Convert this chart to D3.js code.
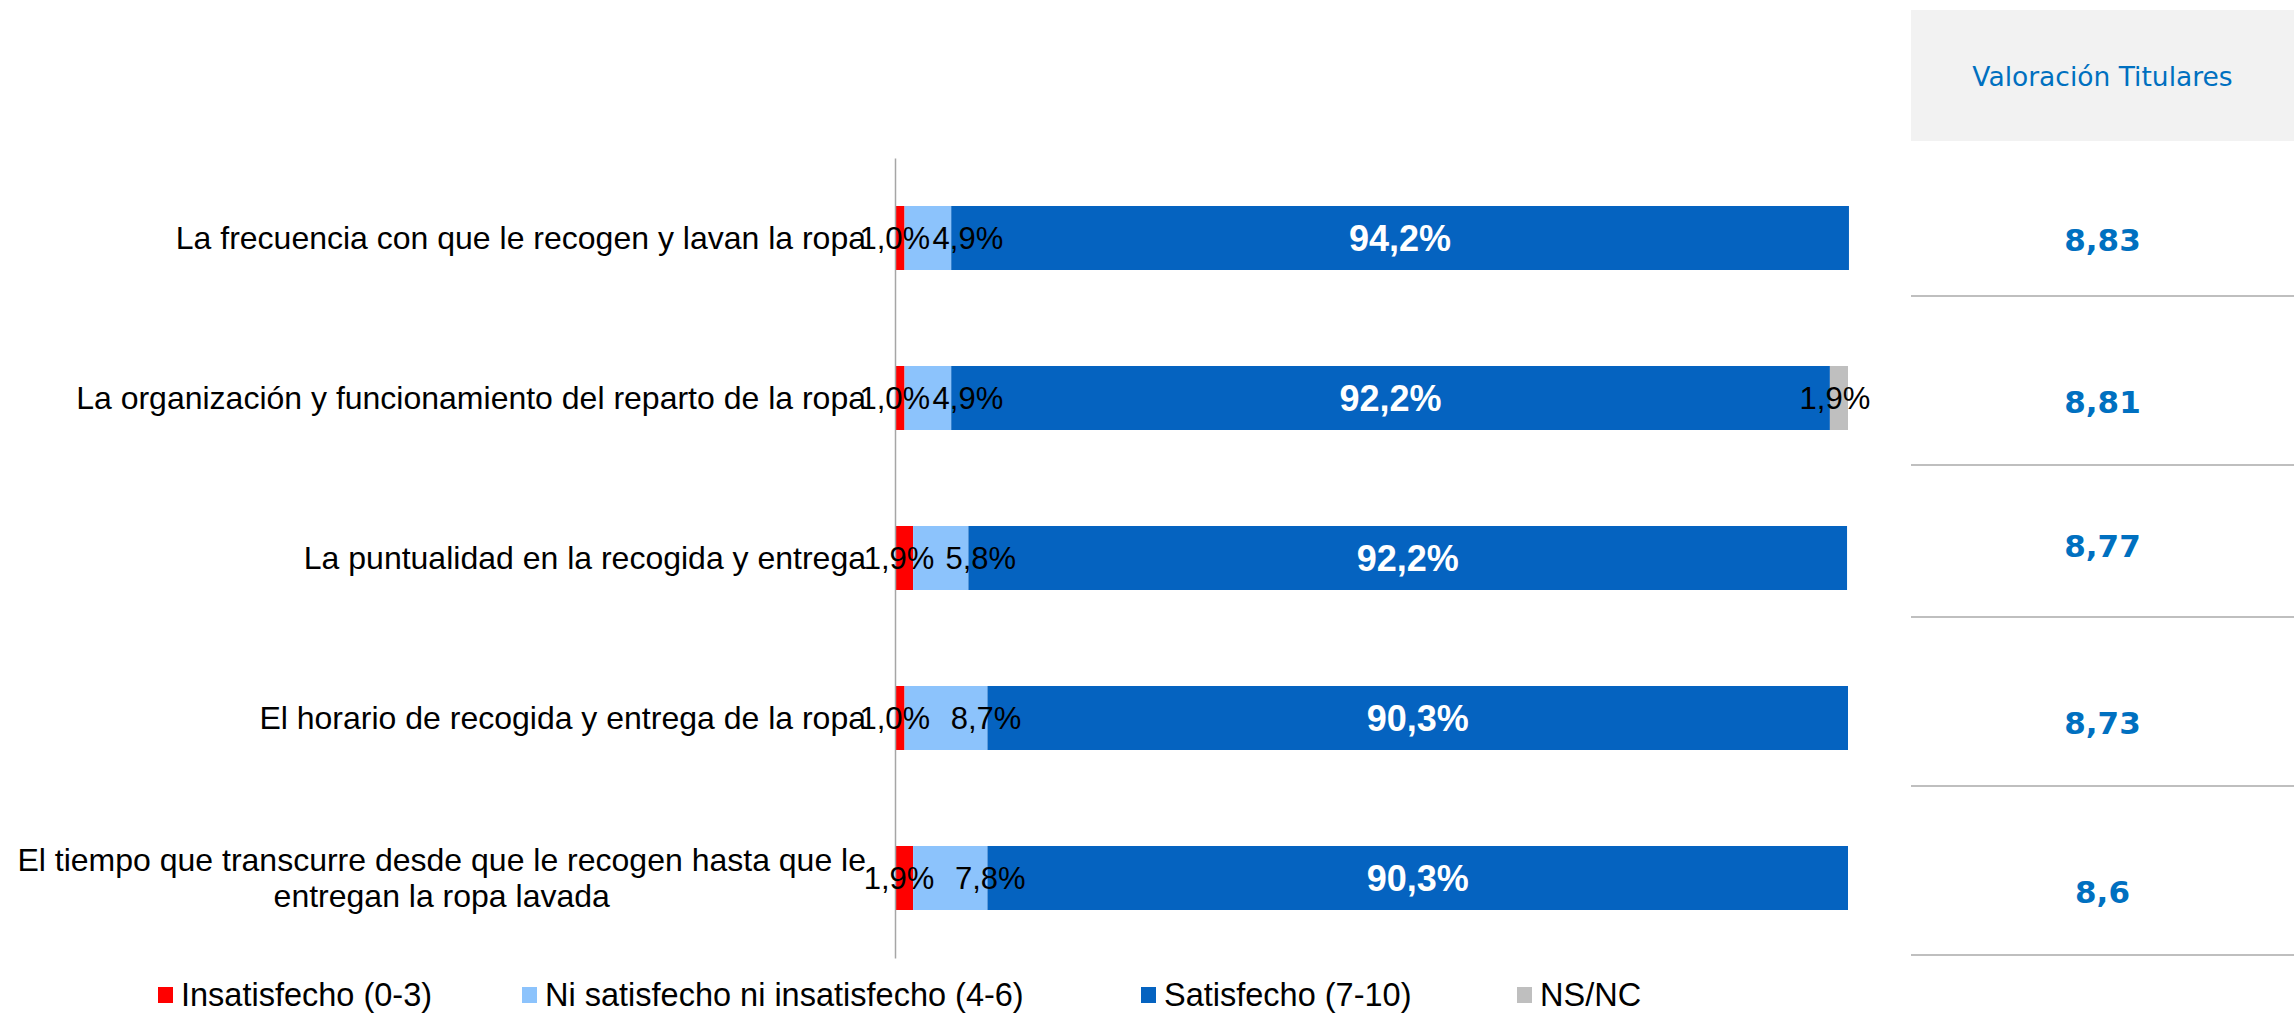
<!DOCTYPE html>
<html lang="es">
<head>
<meta charset="utf-8">
<script src="https://cdn.jsdelivr.net/npm/d3@7"></script>
<style>
  html, body { margin: 0; padding: 0; background: #ffffff; }
  svg { display: block; }
</style>
</head>
<body>
<svg id="chart" width="2294" height="1013"></svg>
<script>
// Aspectos del servicio de lavandería valorados
const categories = [
  "La frecuencia con que le recogen y lavan la ropa",
  "La organización y funcionamiento del reparto de la ropa",
  "La puntualidad en la recogida y entrega",
  "El horario de recogida y entrega de la ropa",
  "El tiempo que transcurre desde que le recogen hasta que le entregan la ropa lavada"
];

// Porcentajes por nivel de satisfacción
const insatisfecho = [1.0, 1.0, 1.9, 1.0, 1.9];
const niSatisfecho = [4.9, 4.9, 5.8, 8.7, 7.8];
const satisfecho   = [94.2, 92.2, 92.2, 90.3, 90.3];
const nsnc         = [0, 1.9, 0, 0, 0];

// Valoración media de los titulares (escala 0-10)
const valoracion = [8.83, 8.81, 8.77, 8.73, 8.6];

const seriesNames = ["Insatisfecho (0-3)", "Ni satisfecho ni insatisfecho (4-6)", "Satisfecho (7-10)", "NS/NC"];
const seriesColors = ["#ff0000", "#8cc3fc", "#0563c0", "#bfbfbf"];
const tableTitle = "Valoración Titulares";

// ---- layout ----
const svg = d3.select("#chart");
const plot = { left: 895, right: 1848, top: 158, bottom: 958 };
const labelRight = 866;
const labelWrap = 862;
const catFont = 32;
const valFont = 31;
const boldFont = 36;
// horizontal nudge of the value labels per series
const labelNudge = [-5, 40, 0, -4];

const table = { left: 1911, right: 2294, headTop: 10, headBottom: 141 };
const tableRules = [296, 465, 617, 786, 955];
const tableBaselines = [251, 413, 557, 734, 903];
const legendX = [158, 522, 1141, 1517];
const legendY = 995;

const series = [insatisfecho, niSatisfecho, satisfecho, nsnc];
const fmtPct = v => d3.format(".1f")(v).replace(".", ",") + "%";
const fmtScore = v => String(v).replace(".", ",");

const x = d3.scaleLinear().domain([0, 100]).range([plot.left, plot.right]);
const y = d3.scaleBand().domain(categories).range([plot.top, plot.bottom])
  .paddingInner(0.6).paddingOuter(0.3);

// stacked rows
const rows = categories.map((c, i) => {
  let acc = 0;
  return series.map((s, k) => {
    const seg = { cat: c, k, v: s[i], x0: acc, x1: acc + s[i] };
    acc += s[i];
    return seg;
  });
});

// bars
const barG = svg.append("g");
rows.forEach(segs => {
  barG.selectAll(null)
    .data(segs.filter(d => d.v > 0))
    .enter().append("rect")
    .attr("x", d => x(d.x0))
    .attr("y", d => y(d.cat))
    .attr("width", d => x(d.x1) - x(d.x0))
    .attr("height", y.bandwidth())
    .attr("fill", d => seriesColors[d.k]);
});

// category axis
const axis = d3.axisLeft(y).tickSize(0).tickFormat("");
const axisG = svg.append("g").attr("transform", `translate(${plot.left},0)`).call(axis);
axisG.select(".domain").attr("stroke", "#a6a6a6").attr("stroke-width", 1.5);

// category labels (wrapped when too long)
const catG = svg.append("g")
  .attr("font-family", "Liberation Sans, Arial, sans-serif")
  .attr("font-size", catFont)
  .attr("fill", "#000");

categories.forEach(c => {
  const t = catG.append("text").attr("text-anchor", "end");
  const words = c.split(" ");
  const lines = [];
  let line = [];
  const probe = catG.append("text").attr("visibility", "hidden");
  words.forEach(w => {
    line.push(w);
    probe.text(line.join(" "));
    if (probe.node().getComputedTextLength() > labelWrap && line.length > 1) {
      line.pop();
      lines.push(line.join(" "));
      line = [w];
    }
  });
  lines.push(line.join(" "));
  let maxW = 0;
  lines.forEach(l => { probe.text(l); maxW = Math.max(maxW, probe.node().getComputedTextLength()); });
  probe.remove();

  const cy = y(c) + y.bandwidth() / 2;
  const lh = 36;
  const first = cy + 11 - (lines.length - 1) * lh / 2;
  if (lines.length === 1) {
    t.attr("x", labelRight).attr("y", first).text(lines[0]);
  } else {
    t.attr("text-anchor", "middle");
    lines.forEach((l, j) => {
      t.append("tspan").attr("x", labelRight - maxW / 2).attr("y", first + j * lh).text(l);
    });
  }
});

// value labels
const valG = svg.append("g").attr("font-family", "Liberation Sans, Arial, sans-serif");
rows.forEach(segs => {
  valG.selectAll(null)
    .data(segs.filter(d => d.v > 0))
    .enter().append("text")
    .attr("x", d => (x(d.x0) + x(d.x1)) / 2 + labelNudge[d.k])
    .attr("y", d => y(d.cat) + y.bandwidth() / 2)
    .attr("dy", "0.35em")
    .attr("text-anchor", "middle")
    .attr("font-size", d => d.k === 2 ? boldFont : valFont)
    .attr("font-weight", d => d.k === 2 ? "bold" : "normal")
    .attr("fill", d => d.k === 2 ? "#ffffff" : "#000000")
    .text(d => fmtPct(d.v));
});

// legend
const legG = svg.append("g")
  .attr("font-family", "Liberation Sans, Arial, sans-serif")
  .attr("font-size", 32.5);
seriesNames.forEach((n, k) => {
  legG.append("rect")
    .attr("x", legendX[k]).attr("y", legendY - 8)
    .attr("width", 15).attr("height", 16)
    .attr("fill", seriesColors[k]);
  legG.append("text")
    .attr("x", legendX[k] + 23).attr("y", legendY)
    .attr("dy", "0.35em")
    .attr("fill", "#000")
    .text(n);
});

// score table
const tabG = svg.append("g").attr("font-family", "Verdana, DejaVu Sans, sans-serif");
const tcx = (table.left + table.right) / 2;
tabG.append("rect")
  .attr("x", table.left).attr("y", table.headTop)
  .attr("width", table.right - table.left).attr("height", table.headBottom - table.headTop)
  .attr("fill", "#f2f2f2");
tabG.append("text")
  .attr("x", tcx).attr("y", 86)
  .attr("text-anchor", "middle")
  .attr("font-size", 26.5)
  .attr("fill", "#0070c0")
  .text(tableTitle);
tabG.selectAll("line.rule")
  .data(tableRules).enter().append("line")
  .attr("x1", table.left).attr("x2", table.right)
  .attr("y1", d => d).attr("y2", d => d)
  .attr("stroke", "#bfbfbf").attr("stroke-width", 2);
tabG.selectAll("text.score")
  .data(valoracion).enter().append("text")
  .attr("x", tcx)
  .attr("y", (d, i) => tableBaselines[i])
  .attr("text-anchor", "middle")
  .attr("font-size", 31)
  .attr("font-weight", "bold")
  .attr("fill", "#0070c0")
  .text(d => fmtScore(d));
</script>
</body>
</html>
